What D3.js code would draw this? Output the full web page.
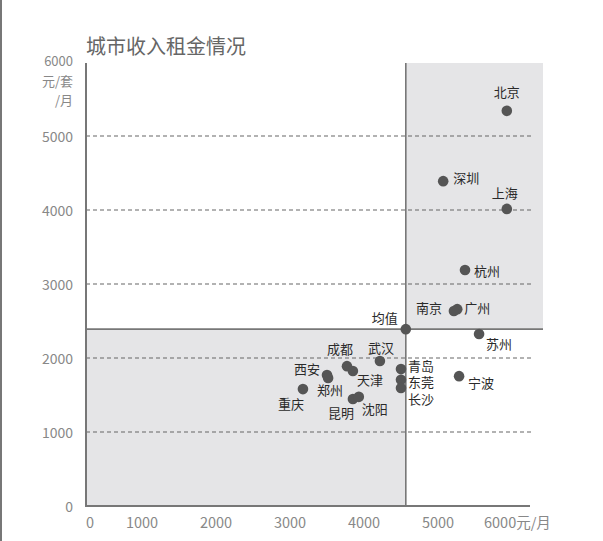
<!DOCTYPE html>
<html>
<head>
<meta charset="utf-8">
<script src="https://cdn.jsdelivr.net/npm/d3@7"></script>
<style>
  body { margin: 0; background: #fff; }
  svg { display: block; font-family: "Noto Sans CJK SC", "Noto Sans", sans-serif; }
</style>
</head>
<body>
<svg id="chart" width="603" height="541"></svg>
<script>
// data: 人均收入 (元/月) vs 租金 (元/套/月)
const cities = ['北京', '深圳', '上海', '杭州', '广州', '南京', '苏州', '武汉', '成都', '天津',
  '西安', '郑州', '重庆', '昆明', '沈阳', '青岛', '东莞', '长沙', '宁波'];
const income = [5930, 5070, 5930, 5365, 5260, 5215, 5555, 4215, 3770, 3850,
  3500, 3515, 3175, 3850, 3930, 4500, 4500, 4500, 5285];
const rent = [5340, 4390, 4015, 3190, 2660, 2635, 2325, 1960, 1890, 1825,
  1770, 1730, 1580, 1445, 1475, 1850, 1705, 1595, 1755];
const meanIncome = 4565;
const meanRent = 2390;
const xTicks = [0, 1000, 2000, 3000, 4000, 5000, 6000];
const yTicks = [0, 1000, 2000, 3000, 4000, 5000, 6000];

// label placement (layout only)
const labelPos = {
  '北京': [0, -19, 'middle'], '深圳': [10, -4, 'start'], '上海': [-2, -16, 'middle'],
  '杭州': [9, 1, 'start'], '广州': [7, -2, 'start'], '南京': [-12, -4, 'end'],
  '苏州': [7, 10, 'start'], '武汉': [1, -13, 'middle'], '成都': [-7, -18, 'middle'],
  '天津': [4, 9, 'start'], '西安': [-7, -7, 'end'], '郑州': [2, 12, 'middle'],
  '重庆': [-12, 14, 'middle'], '昆明': [-12, 13, 'middle'], '沈阳': [16, 12, 'middle'],
  '青岛': [7, -4, 'start'], '东莞': [7, 2, 'start'], '长沙': [7, 11, 'start'],
  '宁波': [9, 6, 'start']
};

const svg = d3.select('#chart');
const pLeft = 86, pRight = 530, pTop = 63, pBottom = 506, shadeRight = 543;

const x = d3.scaleLinear().domain([0, 6000]).range([68, 512]);
const y = d3.scaleLinear().domain([0, 6000]).range([pBottom, 62]);

// page edge line
svg.append('rect').attr('x', 0).attr('y', 0).attr('width', 2).attr('height', 541).attr('fill', '#777');

// title
svg.append('text').attr('x', 86).attr('y', 54)
  .attr('font-size', 20).attr('fill', '#666').text('城市收入租金情况');

// shaded quadrants
const mx = x(meanIncome), my = y(meanRent);
svg.append('rect').attr('x', mx).attr('y', pTop)
  .attr('width', shadeRight - mx).attr('height', my - pTop).attr('fill', '#e5e5e7');
svg.append('rect').attr('x', pLeft).attr('y', my)
  .attr('width', mx - pLeft).attr('height', pBottom - my).attr('fill', '#e5e5e7');

// dashed grid
svg.append('g').selectAll('line')
  .data(yTicks.filter(d => d > 0 && d < 6000))
  .join('line')
  .attr('x1', pLeft).attr('x2', pRight + 2)
  .attr('y1', d => y(d)).attr('y2', d => y(d))
  .attr('stroke', '#666').attr('stroke-width', 1.2).attr('stroke-dasharray', '4,3');

// mean lines
svg.append('line').attr('x1', pLeft).attr('x2', shadeRight).attr('y1', my).attr('y2', my)
  .attr('stroke', '#777').attr('stroke-width', 1.6);
svg.append('line').attr('x1', mx).attr('x2', mx).attr('y1', pTop).attr('y2', pBottom)
  .attr('stroke', '#777').attr('stroke-width', 1.6);

// axes lines
svg.append('line').attr('x1', pLeft).attr('x2', pLeft).attr('y1', pTop).attr('y2', pBottom + 1)
  .attr('stroke', '#777').attr('stroke-width', 2);
svg.append('line').attr('x1', pLeft).attr('x2', pRight).attr('y1', pBottom).attr('y2', pBottom)
  .attr('stroke', '#777').attr('stroke-width', 2);

// y tick labels
const yl = svg.append('g').attr('font-size', 14).attr('fill', '#888').attr('text-anchor', 'end');
yl.selectAll('text').data(yTicks).join('text')
  .attr('x', 73).attr('y', d => d === 6000 ? 60 : y(d))
  .attr('font-size', d => d === 6000 ? 13 : 14)
  .attr('dominant-baseline', 'central').text(d => d);
yl.append('text').attr('x', 73).attr('y', 80).attr('font-size', 13)
  .attr('dominant-baseline', 'central').text('元/套');
yl.append('text').attr('x', 73).attr('y', 99).attr('font-size', 13)
  .attr('dominant-baseline', 'central').text('/月');

// x tick labels
const xl = svg.append('g').attr('font-size', 14.5).attr('fill', '#888');
xl.selectAll('text').data(xTicks).join('text')
  .attr('x', d => d === 0 ? 90 : d === 6000 ? 484 : x(d))
  .attr('y', 521)
  .attr('text-anchor', d => d === 6000 ? 'start' : 'middle')
  .attr('dominant-baseline', 'central')
  .text(d => d === 6000 ? d + '元/月' : d);

// points
const pts = cities.map((c, i) => ({ name: c, inc: income[i], rent: rent[i] }));
svg.append('g').selectAll('circle').data(pts).join('circle')
  .attr('cx', d => x(d.inc)).attr('cy', d => y(d.rent))
  .attr('r', 5.3).attr('fill', '#555');
svg.append('circle').attr('cx', mx).attr('cy', my).attr('r', 5.3).attr('fill', '#555');

// labels
svg.append('g').attr('font-size', 13).attr('fill', '#2a2a2a')
  .selectAll('text').data(pts).join('text')
  .attr('x', d => x(d.inc) + labelPos[d.name][0])
  .attr('y', d => y(d.rent) + labelPos[d.name][1])
  .attr('text-anchor', d => labelPos[d.name][2])
  .attr('dominant-baseline', 'central')
  .text(d => d.name);
svg.append('text').attr('x', mx - 8).attr('y', my - 12)
  .attr('font-size', 13).attr('fill', '#2a2a2a').attr('text-anchor', 'end')
  .attr('dominant-baseline', 'central').text('均值');
</script>
</body>
</html>
